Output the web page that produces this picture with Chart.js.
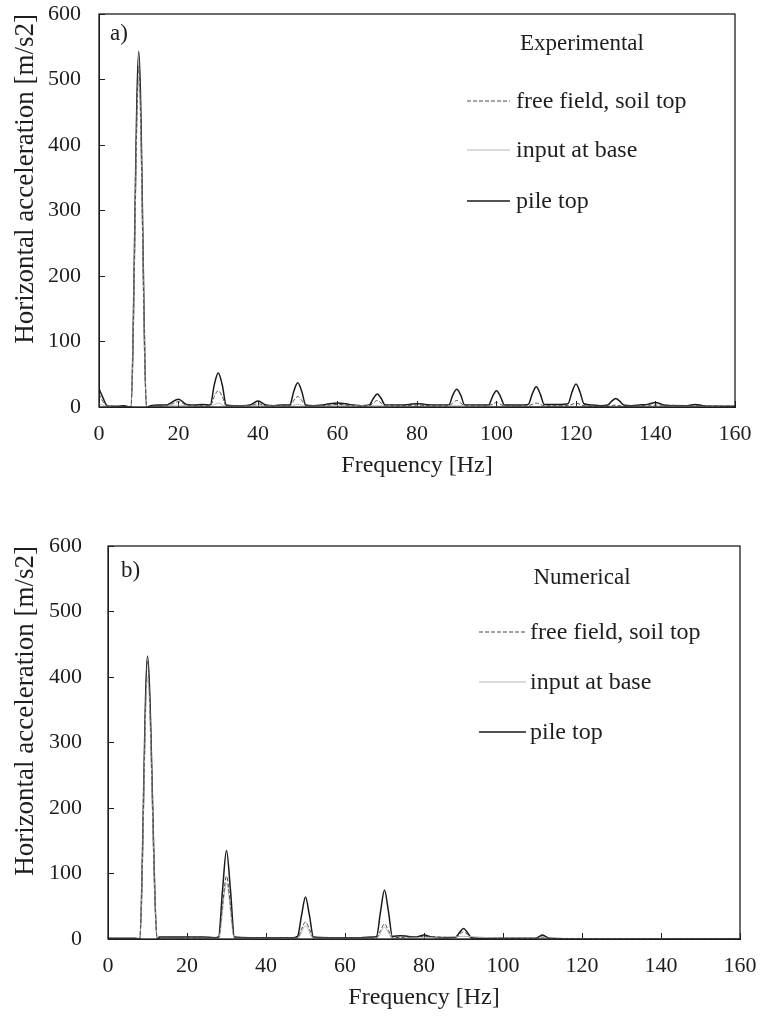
<!DOCTYPE html>
<html><head><meta charset="utf-8">
<script src="https://cdn.jsdelivr.net/npm/chart.js@4"></script>
<style>
html,body{margin:0;padding:0;background:#fff;width:763px;height:1018px;overflow:hidden}
#c1{position:absolute;left:0;top:0}
#c2{position:absolute;left:0;top:532px}
</style>
</head><body>
<canvas id="c1" width="763" height="500"></canvas>
<canvas id="c2" width="763" height="486"></canvas>
<script>
// ---------- data: a) Experimental ----------
const expPileF = [0,1,2,3,5,6,7,8,10,12,13,15,17,18,20,22,24,26,28,29,30,31,32,34,36,38,40,42,44,46,48,49,50,51,52,54,56,58,60,62,64,66,68,69,70,71,72,74,76,78,80,82,84,86,88,89,90,91,92,94,96,98,99,100,101,102,104,106,108,109,110,111,112,114,116,118,119,120,121,122,124,126,128,129,130,131,132,134,136,138,140,142,144,146,148,150,152,154,156,158,160];
const expPileA = [28,14,2,1,1,2,1,0,543,0,2,3,3,6,12,4,3,4,3,34,52,34,3,2,2,3,9,3,2,3,3,24,37,24,3,2,3,5,6,5,3,2,3,13,20,13,3,3,3,4,5,4,3,3,3,18,27,18,3,3,3,3,16,25,16,3,3,3,4,20,31,20,4,4,4,5,23,35,23,5,3,2,3,9,13,9,3,2,3,4,7,3,2,2,2,4,2,1,1,1,1];
const expFreeF = [0,1,2,4,6,8,10,12,14,16,18,20,22,24,26,28,29,30,31,32,34,36,38,40,42,44,46,48,49,50,51,52,56,60,64,68,69,70,71,72,76,80,84,88,89,90,91,92,96,99,100,101,102,108,109,110,111,112,118,119,120,121,122,128,130,132,140,150,160];
const expFreeA = [20,8,2,1,1,0,520,0,2,2,4,8,3,2,2,2,16,25,16,2,2,2,2,5,2,2,2,2,10,16,10,2,2,4,2,2,6,10,6,2,2,3,2,2,6,10,6,2,2,4,7,4,2,2,4,6,4,2,2,4,6,4,2,1,3,1,3,2,1];
const expInF = [0,2,8,10,12,16,20,24,28,30,32,40,48,50,52,60,70,80,90,100,110,120,130,140,150,160];
const expInA = [5,1,0,500,0,1,3,1,1,6,1,2,1,4,1,2,2,1,2,1,1,1,1,1,1,0];

// ---------- data: b) Numerical ----------
const numPileF = [0,4,7,8,10,12.5,13,16,20,24,27,28,29,30,31,32,36,40,44,47,48,49,50,51,52,56,60,64,67,68,69,70,71,72,74,76,78,80,82,84,86,88,89,90,91,92,96,100,104,108,109,110,111,112,120,140,160];
const numPileA = [1,1,1,0,432,0,3,3,3,3,2,3,75,135,75,3,2,2,2,2,4,36,64,36,3,2,2,2,3,4,42,75,42,4,5,4,3,6,3,2,2,3,10,16,10,2,1,1,1,1,3,6,3,1,0,0,0];
const numFreeF = [0,8,10,12.5,14,20,28,29,30,31,32,40,48,49,50,51,52,60,68,69,70,71,72,76,80,88,89,90,91,92,100,108,110,112,120,160];
const numFreeA = [1,0,425,0,2,2,2,52,96,52,2,2,2,15,26,15,2,2,2,13,23,13,2,3,4,2,7,11,7,1,1,1,3,1,0,0];
const numInF = [0,8,10,12.5,20,28,30,32,40,48,50,52,60,68,70,72,80,90,100,110,160];
const numInA = [0,0,400,0,1,1,85,1,1,1,20,1,1,1,18,1,2,4,1,1,0];

const seriesLabels = ['free field, soil top', 'input at base', 'pile top'];
const xTickLabels = [0,20,40,60,80,100,120,140,160];
const yTickLabels = [0,100,200,300,400,500,600];

const FONT = "'Liberation Serif', 'Times New Roman', serif";
const INK = '#1e1e1e';

function pts(f, a) { return f.map((v, i) => ({x: v, y: a[i]})); }

const frameLegend = {
  id: 'frameLegend',
  afterDraw(chart, args, o) {
    const {ctx, chartArea: a} = chart;
    ctx.save();
    ctx.strokeStyle = INK; ctx.lineWidth = 1.3;
    ctx.strokeRect(a.left, a.top, a.right - a.left, a.bottom - a.top);
    ctx.fillStyle = INK;
    ctx.textBaseline = 'middle';
    ctx.font = o.titleSize + 'px ' + FONT;
    ctx.textAlign = 'left';
    ctx.fillText(o.panel, o.panelX, o.panelY);
    ctx.textAlign = 'center';
    ctx.fillText(o.title, o.titleX, o.titleY);
    ctx.font = o.size + 'px ' + FONT;
    chart.data.datasets.forEach((ds, i) => {
      const y = o.rowY[i];
      ctx.beginPath();
      ctx.setLineDash(ds.borderDash || []);
      ctx.strokeStyle = ds.borderColor; ctx.lineWidth = ds.borderWidth;
      ctx.moveTo(o.lineX1, y); ctx.lineTo(o.lineX2, y); ctx.stroke();
      ctx.setLineDash([]);
      ctx.textAlign = 'left';
      ctx.fillText(ds.label, o.textX, y + 1);
    });
    ctx.restore();
  }
};

function noPad(s) { s.paddingTop = 0; s.paddingBottom = 0; s.paddingLeft = 0; s.paddingRight = 0; }

function makeChart(id, d, L) {
  const H = document.getElementById(id).height;
  return new Chart(document.getElementById(id), {
    type: 'line',
    data: {
      datasets: [
        {label: seriesLabels[0], data: pts(d.freeF, d.freeA), borderColor: '#4a4a4a', borderWidth: 1, borderDash: [4, 2]},
        {label: seriesLabels[1], data: pts(d.inF, d.inA), borderColor: '#b8b8b8', borderWidth: 1},
        {label: seriesLabels[2], data: pts(d.pileF, d.pileA), borderColor: '#1a1a1a', borderWidth: 1.5}
      ].map(s => Object.assign(s, {pointRadius: 0, cubicInterpolationMode: 'monotone', fill: false}))
    },
    options: {
      responsive: false, animation: false, devicePixelRatio: 1,
      layout: {padding: {top: 14, right: L.right, left: 0, bottom: 0}},
      plugins: {legend: {display: false}, tooltip: {enabled: false}, frameLegend: L.legend},
      scales: {
        x: {
          type: 'linear', min: 0, max: 160,
          afterBuildTicks(s) { s.ticks = xTickLabels.map(v => ({value: v})); },
          ticks: {padding: 20, font: {family: FONT, size: 22}, color: INK, maxRotation: 0, autoSkip: false},
          grid: {display: true, drawOnChartArea: false, drawTicks: true, tickLength: -6, color: INK, lineWidth: 1},
          border: {display: true, color: INK, width: 1},
          title: {display: true, text: 'Frequency [Hz]', font: {family: FONT, size: 24}, color: INK, padding: {top: 0, bottom: L.xTitlePad}},
          afterFit(s) { s.height = H - 407; noPad(s); }
        },
        y: {
          min: 0, max: 600,
          afterBuildTicks(s) { s.ticks = yTickLabels.map(v => ({value: v})); },
          ticks: {padding: L.yPad, font: {family: FONT, size: 22}, color: INK},
          grid: {display: true, drawOnChartArea: false, drawTicks: true, tickLength: -6, color: INK, lineWidth: 1},
          border: {display: true, color: INK, width: 1},
          title: {display: true, text: 'Horizontal acceleration [m/s2]', align: 'end', font: {family: FONT, size: 27}, color: INK, padding: {top: 10, bottom: 0}},
          afterFit(s) { s.width = L.left; noPad(s); }
        }
      }
    },
    plugins: [frameLegend]
  });
}

makeChart('c1',
  {pileF: expPileF, pileA: expPileA, freeF: expFreeF, freeA: expFreeA, inF: expInF, inA: expInA},
  {right: 28, left: 99, yPad: 24, xTitlePad: 20,
   legend: {size: 24, titleSize: 23, panel: 'a)', panelX: 110, panelY: 34, title: 'Experimental', titleX: 582, titleY: 44,
            rowY: [101, 150, 201], lineX1: 467, lineX2: 510, textX: 516}});

makeChart('c2',
  {pileF: numPileF, pileA: numPileA, freeF: numFreeF, freeA: numFreeA, inF: numInF, inA: numInA},
  {right: 23, left: 108, yPad: 32, xTitlePad: 6,
   legend: {size: 24, titleSize: 23, panel: 'b)', panelX: 121, panelY: 39, title: 'Numerical', titleX: 582, titleY: 46,
            rowY: [100, 150, 200], lineX1: 479, lineX2: 526, textX: 530}});
</script>
</body></html>
